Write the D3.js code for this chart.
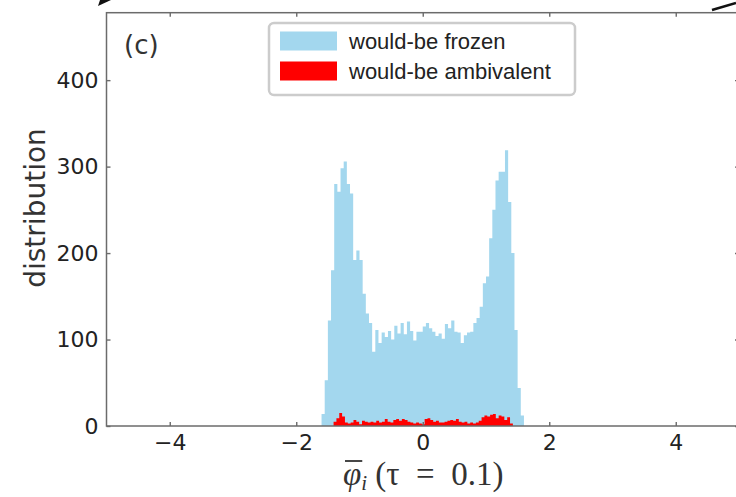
<!DOCTYPE html>
<html lang="en">
<head>
	<meta charset="utf-8">
	<title>Histogram of phi bar (tau = 0.1)</title>
	<script type="text/javascript" src="https://d3js.org/d3.v7.min.js"></script>
	<style type="text/css">
		body { margin: 0; background: #fff; }
		svg { display: block; }
	</style>
</head>
<body>
	<script type="text/javascript">
		// Canvas size
		var w = 736;
		var h = 497;

		// Histogram of the would-be frozen nodes: first bin edge, bin width, counts
		var frozenStart = -1.6;
		var frozenWidth = 0.05;
		var frozenCounts = [14, 53, 122, 180, 280, 271, 298, 306, 280, 269,
			192, 203, 192, 153, 130, 119, 86, 111, 96, 108,
			103, 110, 100, 116, 107, 119, 106, 121, 110, 99,
			109, 109, 115, 119, 113, 109, 104, 107, 101, 118,
			113, 122, 109, 108, 96, 105, 108, 109, 119, 125,
			138, 165, 173, 217, 250, 284, 294, 294, 319, 259,
			200, 111, 44, 12];

		// Histogram of the would-be ambivalent nodes
		var ambStart = -1.41;
		var ambWidth = 0.045;
		var ambCounts = [5, 9, 15, 11, 4, 3, 4, 7, 5, 2,
			6, 5, 4, 5, 4, 6, 4, 5, 8, 5,
			4, 7, 8, 6, 8, 7, 5, 4, 3, 4,
			3, 2, 8, 9, 7, 5, 6, 4, 4, 5,
			6, 7, 6, 8, 5, 4, 5, 3, 4, 3,
			4, 6, 10, 12, 11, 13, 14, 9, 12, 11,
			7, 10, 3];

		var seriesNames = ["would-be frozen", "would-be ambivalent"];
		var seriesColors = ["#a3d7ee", "#ff0000"];

		var xTicks = [-4, -2, 0, 2, 4];
		var yTicks = [0, 100, 200, 300, 400];
		var xDomain = [-5, 5];
		var yDomain = [0, 478];

		// Plot box (the right side runs just off the picture)
		var boxL = 106.5, boxR = 739, boxT = 12.7, boxB = 426;

		var svg = d3.select("body")
			.append("svg")
			.attr("width", w)
			.attr("height", h);

		var x = d3.scaleLinear().domain(xDomain).range([boxL, boxR]);
		var y = d3.scaleLinear().domain(yDomain).range([boxB, boxT]);

		// turn counts into step points so neighbouring bins join without seams
		function steps(start, width, counts) {
			var pts = [];
			counts.forEach(function(c, i) {
				pts.push({ x: start + i * width, c: c });
				pts.push({ x: start + (i + 1) * width, c: c });
			});
			return pts;
		}

		var area = d3.area()
			.x(function(d) { return x(d.x); })
			.y0(y(0))
			.y1(function(d) { return y(d.c); });

		svg.append("path")
			.datum(steps(frozenStart, frozenWidth, frozenCounts))
			.attr("d", area)
			.attr("fill", seriesColors[0]);

		svg.append("path")
			.datum(steps(ambStart, ambWidth, ambCounts))
			.attr("d", area)
			.attr("fill", seriesColors[1]);

		// Axes with inward ticks on all four sides
		var axisColor = "#6b6b6b";
		function styleAxis(g) {
			g.select(".domain").remove();
			g.selectAll(".tick line").attr("stroke", axisColor).attr("stroke-width", 1.4);
			g.selectAll("text")
				.attr("fill", "#222")
				.attr("font-family", "DejaVu Sans, sans-serif")
				.attr("font-size", "22px");
		}

		svg.append("g")
			.attr("transform", "translate(0," + boxB + ")")
			.call(d3.axisBottom(x).tickValues(xTicks).tickSize(-4).tickPadding(8)
				.tickFormat(function(d) { return d < 0 ? "\u2212" + Math.abs(d) : d; }))
			.call(styleAxis);

		svg.append("g")
			.attr("transform", "translate(0," + boxT + ")")
			.call(d3.axisTop(x).tickValues(xTicks).tickSize(-4).tickFormat(""))
			.call(styleAxis);

		svg.append("g")
			.attr("transform", "translate(" + boxL + ",0)")
			.call(d3.axisLeft(y).tickValues(yTicks).tickSize(-4).tickPadding(8))
			.call(styleAxis);

		svg.append("g")
			.attr("transform", "translate(" + boxR + ",0)")
			.call(d3.axisRight(y).tickValues(yTicks).tickSize(-4).tickFormat(""))
			.call(styleAxis);

		// frame
		svg.append("rect")
			.attr("x", boxL)
			.attr("y", boxT)
			.attr("width", boxR - boxL)
			.attr("height", boxB - boxT)
			.attr("fill", "none")
			.attr("stroke", axisColor)
			.attr("stroke-width", 1.5);

		// y label
		svg.append("text")
			.attr("transform", "translate(45,208) rotate(-90)")
			.attr("text-anchor", "middle")
			.attr("font-family", "DejaVu Sans, sans-serif")
			.attr("font-size", "28px")
			.attr("fill", "#333")
			.text("distribution");

		// x label: phi bar sub i (tau = 0.1)
		var xl = svg.append("text")
			.attr("x", 343)
			.attr("y", 485)
			.attr("font-family", "Liberation Serif, DejaVu Serif, serif")
			.attr("font-size", "33px")
			.attr("fill", "#333");
		var phi = xl.append("tspan").attr("font-style", "italic").text("\u03c6");
		xl.append("tspan").attr("font-style", "italic").attr("font-size", "21px").attr("dy", 5).text("i");
		xl.append("tspan").attr("dy", -5).text(" (\u03c4\u2002=\u20020.1)");
		var pb = phi.node().getBBox();
		svg.append("line")
			.attr("x1", pb.x + 2).attr("x2", pb.x + pb.width + 1)
			.attr("y1", pb.y + 5).attr("y2", pb.y + 5)
			.attr("stroke", "#333").attr("stroke-width", 1.8);

		// panel tag
		svg.append("text")
			.attr("x", 124)
			.attr("y", 54)
			.attr("font-family", "DejaVu Sans, sans-serif")
			.attr("font-size", "26px")
			.attr("fill", "#333")
			.text("(c)");

		// legend
		var lg = svg.append("g");
		lg.append("rect")
			.attr("x", 269).attr("y", 23)
			.attr("width", 306).attr("height", 72)
			.attr("rx", 5)
			.attr("fill", "#fff")
			.attr("stroke", "#cccccc")
			.attr("stroke-width", 2.5);
		seriesNames.forEach(function(name, i) {
			lg.append("rect")
				.attr("x", 280).attr("y", 31.5 + i * 30)
				.attr("width", 57).attr("height", 19)
				.attr("fill", seriesColors[i]);
			lg.append("text")
				.attr("x", 349).attr("y", 48.5 + i * 30)
				.attr("font-family", "Liberation Sans, Arial, sans-serif")
				.attr("font-size", "22px")
				.attr("fill", "#222")
				.text(name);
		});

		// stray strokes from the neighbouring panels at the top corners
		svg.append("path").attr("d", "M98,6 L111,0 L100,0 Z").attr("fill", "#111");
		svg.append("line")
			.attr("x1", 712).attr("y1", 10).attr("x2", 736).attr("y2", 3)
			.attr("stroke", "#111").attr("stroke-width", 2.5);
	</script>
</body>
</html>
